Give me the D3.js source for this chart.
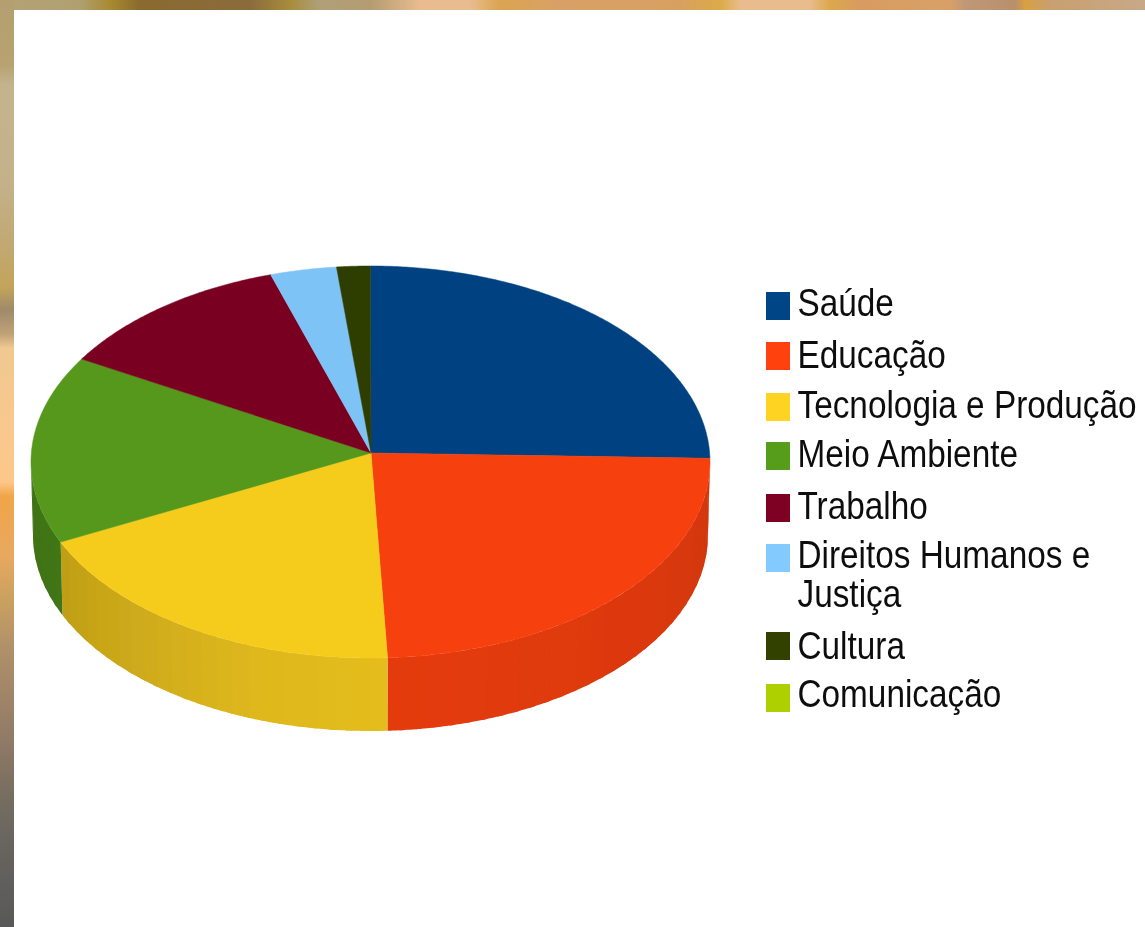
<!DOCTYPE html>
<html>
<head>
<meta charset="utf-8">
<script src="https://cdn.jsdelivr.net/npm/d3@7"></script>
<style>
  html, body { margin: 0; padding: 0; background: #fff; overflow: hidden; }
  text { font-family: "Liberation Sans", Arial, sans-serif; fill: #111; }
</style>
</head>
<body>
<svg id="chart" width="1145" height="927"></svg>
<script>
const categories = ["Saúde", "Educação", "Tecnologia e Produção", "Meio Ambiente", "Trabalho", "Direitos Humanos e", "Cultura", "Comunicação"];
const values = [24.7, 24.5, 19.1, 15.5, 11.45, 3.15, 1.6, 0];
const colors = ["#004586", "#ff420e", "#ffd320", "#579d1c", "#7e0021", "#83caff", "#314004", "#aecf00"];

// legend rows are not evenly spaced in the picture
const legendBaselines = [316, 368, 418, 467, 519, 568, 659, 707];
const legendBoxTops = [292, 342, 393, 442, 494, 544, 632, 684];

// the background photo only shows as a strip on the top and left
const topStripX = [0, 80, 110, 140, 250, 290, 320, 370, 420, 470, 500, 560, 680, 720, 740, 810, 830, 860, 950, 965, 1015, 1025, 1050, 1145];
const topStripColors = ["#b5a274", "#b0a070", "#a88a30", "#8a6a30", "#8a6c3c", "#a88c3c", "#b0a078", "#b49c70", "#e8bc90", "#e8bc90", "#daa450", "#d8a066", "#d8a060", "#dcaa48", "#e8bc8c", "#e8bc8c", "#dca84c", "#d89c60", "#d8a068", "#c09878", "#b8906c", "#d8a040", "#c8a070", "#c8a888"];
const leftStripY = [0, 65, 85, 185, 250, 287, 310, 334, 348, 417, 482, 496, 556, 602, 649, 742, 788, 834, 927];
const leftStripColors = ["#b49f70", "#b7a270", "#c4b48e", "#c3b18a", "#c2a870", "#c4a45a", "#9f8a6a", "#c0a278", "#f0c890", "#f8c88e", "#fdc78a", "#f0a648", "#e8a860", "#c8a060", "#b0906a", "#8f7a66", "#7a6f60", "#6a6660", "#585858"];

const deg = Math.PI / 180;
const svg = d3.select("#chart");
const defs = svg.append("defs");
defs.append("filter").attr("id", "soft")
  .append("feGaussianBlur").attr("stdDeviation", 0.6);

function addStrip(id, stops, cols, x2, y2) {
  const max = d3.max(stops);
  const grad = defs.append("linearGradient").attr("id", id)
    .attr("x1", 0).attr("y1", 0).attr("x2", x2).attr("y2", y2);
  stops.forEach((s, i) => {
    grad.append("stop").attr("offset", s / max).attr("stop-color", cols[i]);
  });
}
addStrip("topStrip", topStripX, topStripColors, 1, 0);
addStrip("leftStrip", leftStripY, leftStripColors, 0, 1);
svg.append("rect").attr("width", 1145).attr("height", 10).attr("fill", "url(#topStrip)");
svg.append("rect").attr("width", 14).attr("height", 927).attr("fill", "url(#leftStrip)");

// pie projection: unit circle squashed on to the ellipse
const xRim = d3.scaleLinear().domain([-1, 1]).range([31, 710]);
const yRim = d3.scaleLinear().domain([-1, 1]).range([266, 658]);
const xFloor = d3.scaleLinear().domain([-1, 1]).range([33, 708]);
const depth = 73;
const apex = [371, 453];

const rim = a => [xRim(Math.sin(a)), yRim(-Math.cos(a))];
const floor = a => [xFloor(Math.sin(a)), yRim(-Math.cos(a)) + depth];
const line = d3.line();

const arcs = d3.pie().sort(null).value(d => d)(values);

function sweep(a0, a1, step) {
  const n = Math.max(1, Math.ceil((a1 - a0) / step));
  return d3.range(n + 1).map(i => a0 + (a1 - a0) * i / n);
}

// side wall shading by the angle around the pie
const wallShade = d3.scaleLinear()
  .domain([90, 130, 177, 200, 246, 270])
  .range([0.82, 0.865, 0.895, 0.87, 0.75, 0.72])
  .clamp(true);
const topShade = 0.965;

function shaded(color, k) {
  const c = d3.rgb(color);
  return d3.rgb(c.r * k, c.g * k, c.b * k).formatHex();
}

const pieGroup = svg.append("g").attr("filter", "url(#soft)");

const walls = pieGroup.append("g");
arcs.forEach((d, i) => {
  const a0 = Math.max(d.startAngle, 90 * deg);
  const a1 = Math.min(d.endAngle, 270 * deg);
  if (a1 <= a0) return;
  const edges = sweep(a0, a1, 3 * deg);
  d3.pairs(edges).forEach(([s, e]) => {
    // run each strip on under the next one so no seams show
    const fine = sweep(s, Math.min(e + 1 * deg, a1), 0.5 * deg);
    const pts = fine.map(rim).concat(fine.slice().reverse().map(floor));
    walls.append("path")
      .attr("d", line(pts) + "Z")
      .attr("fill", shaded(colors[i], wallShade((s + e) / 2 / deg)));
  });
});

const faces = pieGroup.append("g");
arcs.forEach((d, i) => {
  if (d.endAngle <= d.startAngle) return;
  const pts = [apex].concat(sweep(d.startAngle, d.endAngle, 0.5 * deg).map(rim));
  faces.append("path")
    .attr("d", line(pts) + "Z")
    .attr("fill", shaded(colors[i], topShade))
    .attr("stroke", shaded(colors[i], topShade))
    .attr("stroke-width", 0.5);
});

// legend
const legend = svg.append("g");
function legendText(name, y) {
  legend.append("text")
    .attr("transform", `translate(797.5,${y}) scale(0.855,1)`)
    .attr("font-size", 39)
    .attr("filter", "url(#soft)")
    .text(name);
}
categories.forEach((name, i) => {
  legend.append("rect")
    .attr("x", 766).attr("y", legendBoxTops[i])
    .attr("width", 24).attr("height", 28)
    .attr("fill", colors[i])
    .attr("filter", "url(#soft)");
  legendText(name, legendBaselines[i]);
});
legendText("Justiça", 607);
</script>
</body>
</html>
